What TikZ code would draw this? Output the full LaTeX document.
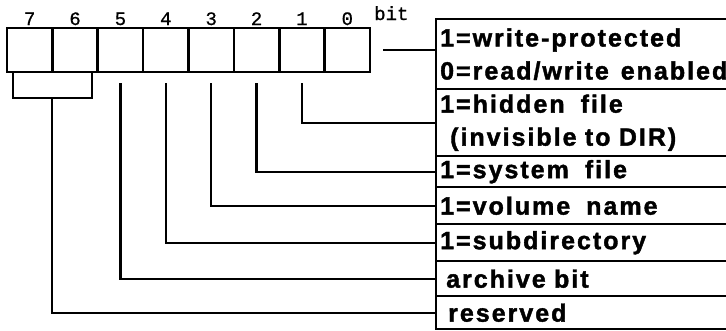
\documentclass[tikz,border=0pt]{standalone}
\usepackage{fontspec}
\newfontfamily\labfont[LetterSpace=8,FakeBold=1.6]{Liberation Sans}
\newfontfamily\bitfont[FakeBold=0.8]{Liberation Mono}
\newcommand{\wsp}{\hspace{16pt}}
\begin{document}
\begin{tikzpicture}[x=1pt,y=-1pt,
  conn/.style={line width=2.4pt},
  cell/.style={draw,line width=2.6pt,minimum width=45.4pt,minimum height=44pt,inner sep=0pt},
  bitnum/.style={font=\bitfont\fontsize{19}{20}\selectfont,inner sep=0pt},
  rbox/.style={draw,line width=2.4pt,anchor=north west,minimum width=300pt,text width=292pt,
    align=left,inner xsep=2pt,inner ysep=0pt,
    font=\labfont\bfseries\fontsize{25}{33}\selectfont}]
\useasboundingbox (0,0) rectangle (726,330);
\clip (0,0) rectangle (726,330);
\foreach \i in {0,...,7}{
  \node[cell] (c\i) at ({7+(7-\i+0.5)*45.375},50) {};
  \node[bitnum,anchor=base] (n\i) at ({7+(7-\i+0.5)*45.375},25) {\i};
}
\node[bitnum,anchor=base west] (bitlab) at (374,20) {bit};
% right boxes
\node[rbox,minimum height=70pt] (b0) at (435,18) {1=write-protected\\0=read/write\hspace{12pt}enabled};
\node[rbox,minimum height=67pt] (b1) at (435,88) {1=hidden\wsp file\\\hspace*{10pt}(invisible to DIR)};
\node[rbox,minimum height=31pt] (b2) at (435,155) {1=system\wsp file};
\node[rbox,minimum height=37pt] (b3) at (435,186) {1=volume\wsp name};
\node[rbox,minimum height=37pt] (b4) at (435,223) {1=subdirectory};
\node[rbox,minimum height=35pt] (b5) at (435,260) {\hspace*{6pt}archive bit};
\node[rbox,minimum height=33pt] (b6) at (435,295) {\hspace*{8pt}reserved};
% connectors
\draw[conn] ([xshift=12pt]c0.east) -- (c0.east -| b0.west);
\foreach \i in {1,...,5}{
  \draw[conn] ([yshift=-10pt]c\i.south) |- (b\i.west);
}
\coordinate (bl) at (13,98);
\coordinate (br) at (92,98);
\coordinate (bm) at (52,98);
\draw[conn] (c7.south -| bl) -- (bl) -- (br) -- (c6.south -| br);
\draw[conn] (bm) |- (b6.west);
\end{tikzpicture}
\end{document}
